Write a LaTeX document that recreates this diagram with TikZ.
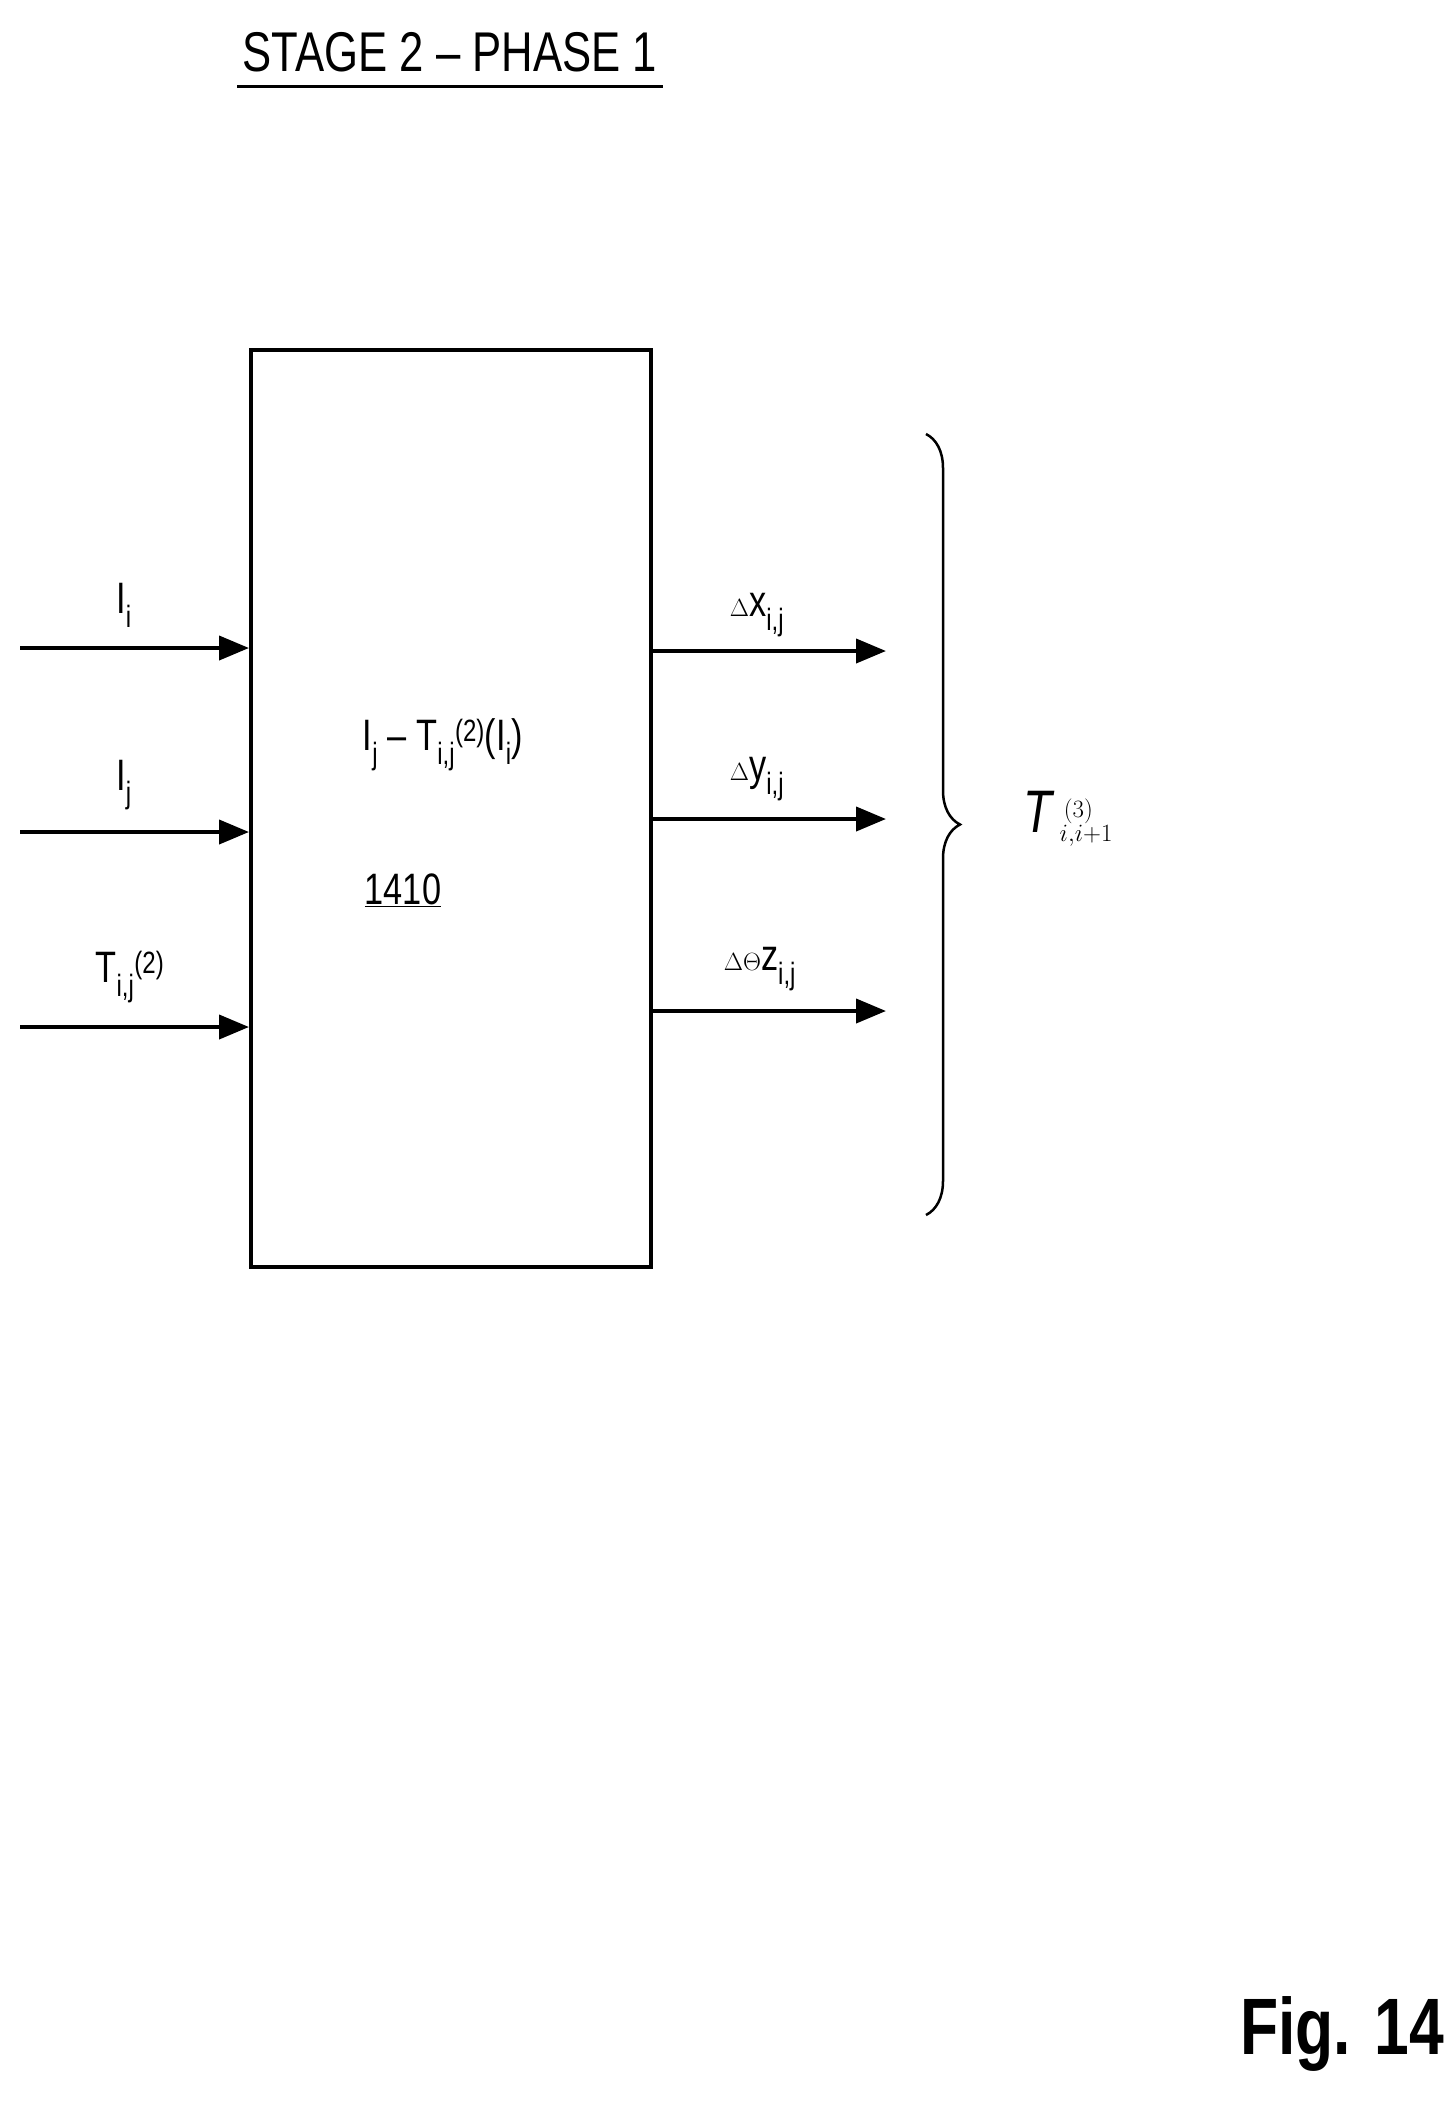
\documentclass[tikz,border=0pt]{standalone}
\usepackage{fontspec}
\setmainfont[FakeStretch=0.78]{Liberation Sans}
\usetikzlibrary{arrows.meta,decorations.pathreplacing}
\begin{document}
\begin{tikzpicture}[x=1pt,y=-1pt,
  lbl/.style={font=\fontsize{44}{48}\selectfont,inner sep=0pt},
  arr/.style={line width=4pt,-{Triangle[length=30pt,width=24pt]}},
  blk/.style={draw,line width=4pt,inner sep=0pt}]
\useasboundingbox (0,0) rectangle (1450,2104);
\node[font=\fontsize{56}{60}\selectfont,inner sep=0pt] (title) at (450,52) {STAGE 2 -- PHASE 1};
\draw[line width=3pt] (237,86) -- (663,86);
\node[blk,minimum width=400pt,minimum height=917pt] (box) at (451,808.5) {};
\coordinate (a1) at (20,648); \coordinate (a2) at (20,832); \coordinate (a3) at (20,1027);
\draw[arr] (a1) -- (a1 -| box.west);
\draw[arr] (a2) -- (a2 -| box.west);
\draw[arr] (a3) -- (a3 -| box.west);
\node[lbl] (li) at (124,605) {I\textsubscript{i}};
\node[lbl] (lj) at (124,785) {I\textsubscript{j}};
\node[lbl] (lt) at (130,977) {T\textsubscript{i,j}\textsuperscript{(2)}};
\coordinate (b1) at (886,651); \coordinate (b2) at (886,819); \coordinate (b3) at (886,1011);
\draw[arr] (b1 -| box.east) -- (b1);
\draw[arr] (b2 -| box.east) -- (b2);
\draw[arr] (b3 -| box.east) -- (b3);
\node[lbl] (dx) at (757,615) {$\Delta$x\textsubscript{i,j}};
\node[lbl] (dy) at (757,779) {$\Delta$y\textsubscript{i,j}};
\node[lbl] (dt) at (760,969) {$\Delta\Theta$z\textsubscript{i,j}};
\node[lbl] (fn) at (443,745) {I\textsubscript{j} -- T\textsubscript{i,j}\textsuperscript{(2)}(I\textsubscript{i})};
\node[lbl] (num) at (403,890) {\underline{1410}};
\coordinate (bt) at (926,434); \coordinate (bb) at (926,1215);
\draw[line width=2.5pt,decorate,decoration={brace,amplitude=34pt}] (bt) -- (bb);
\node[inner sep=0pt,font=\fontsize{60}{64}\selectfont] (T3) at (1068,819) {$\mathrm{\mathit{T}}^{\,(3)}_{i,i+1}$};
\node[inner sep=0pt,font=\fontsize{80}{84}\selectfont\bfseries] (fig) at (1342,2034) {Fig. 14};
\end{tikzpicture}
\end{document}
